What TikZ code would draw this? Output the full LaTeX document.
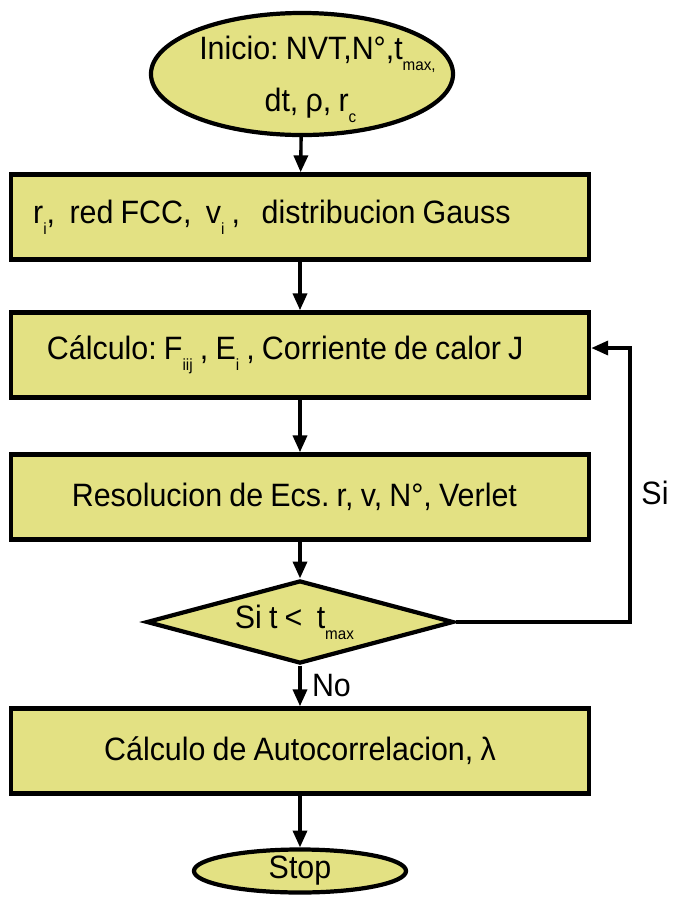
\documentclass[tikz,border=0pt]{standalone}
\usepackage{fontspec}
\setmainfont[FakeStretch=0.94, WordSpace=0.85]{Liberation Sans}
\usetikzlibrary{shapes.geometric,arrows.meta,positioning,calc}
\frenchspacing

\definecolor{boxfill}{RGB}{227,225,131}
\newcommand{\lowsub}[1]{\raisebox{-8pt}{\fontsize{11.5}{12}\selectfont #1}}

\tikzset{
  term/.style={ellipse, draw, line width=3pt, fill=boxfill, inner sep=0pt},
  proc/.style={rectangle, draw, line width=3.2pt, fill=boxfill,
    minimum width=14.45cm, minimum height=2.125cm},
  dec/.style={diamond, draw, line width=3pt, fill=boxfill, inner sep=0pt, aspect=3.7,
    minimum width=7.675cm, minimum height=2.075cm},
  arr/.style={line width=2.4pt, -{Triangle[length=12pt,width=10pt]}}
}

\begin{document}
\begin{tikzpicture}[x=0.025cm, y=-0.025cm, font=\fontsize{23}{27}\selectfont]
    \useasboundingbox (0,0) rectangle (673,897);

    % start
    \node[term, minimum width=7.55cm, minimum height=3.05cm,
      label={[align=center, font=\fontsize{23}{37}\selectfont, xshift=11pt, yshift=-4pt]center:Inicio: NVT,N°,t\lowsub{max,}\\dt, ρ, r\lowsub{c}\hspace*{10pt}}]
      (inicio) at (302,74) {};

    % processes
    \node[proc] (init) at (300,217)
      {r\lowsub{i},~ red FCC,~ v\lowsub{i} ,~~ distribucion Gauss\hspace*{40pt}};
    \node[proc] (calc) at (300,355)
      {Cálculo: F\lowsub{iij} , E\lowsub{i} , Corriente de calor J\hspace*{21pt}};
    \node[proc] (verlet) at (300,497) {Resolucion de Ecs. r, v, N°, Verlet\hspace*{8pt}};

    % test
    \node[dec] (cond) at (300,622) {Si t <~ t\lowsub{max}\hspace*{8pt}};

    \node[proc] (autoc) at (300,751) {Cálculo de Autocorrelacion, λ};
    \node[term, minimum width=5.3cm, minimum height=1.075cm] (stop) at (300,871) {Stop};

    % flow
    \draw[arr] (inicio) -- (init);
    \draw[arr] (init) -- (calc);
    \draw[arr] (calc) -- (verlet);
    \draw[arr] (verlet) -- (cond);
    \draw[arr] (cond) -- node[right=4pt] {No} (autoc);
    \draw[arr] (autoc) -- (stop);

    % loop back
    \coordinate (back) at (630,348);
    \draw[arr] (cond.east) -| (back) -- (back -| calc.east);
    \node (si) at (655,493) {Si};
\end{tikzpicture}
\end{document}
